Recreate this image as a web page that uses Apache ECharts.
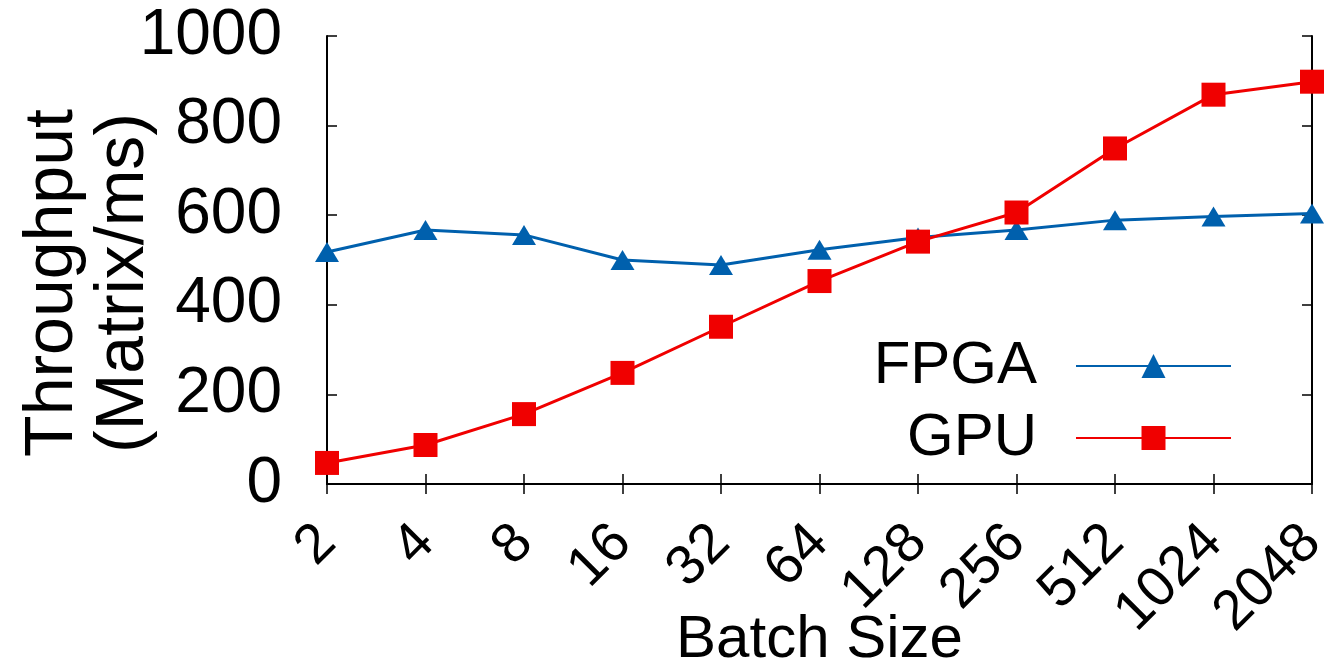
<!DOCTYPE html>
<html>
<head>
<meta charset="utf-8">
<script src="https://cdn.jsdelivr.net/npm/echarts@6/dist/echarts.min.js"></script>
<style>
html,body{margin:0;padding:0;background:#fff;}
#chart{width:1333px;height:665px;}
</style>
</head>
<body>
<div id="chart"></div>
<script>
const categories = ['2','4','8','16','32','64','128','256','512','1024','2048'];
const fpga = [518, 567, 556, 500, 489, 523, 550, 567, 589, 597, 604];
const gpu = [47, 87, 156, 248, 351, 453, 541, 606, 749, 869, 898];
const yTicks = {min: 0, max: 1000, interval: 200};

const FONT = 'Liberation Sans';
const chart = echarts.init(document.getElementById('chart'));
const frame = {show: true, lineStyle: {color: '#000', width: 2}};
chart.setOption({
  animation: false,
  backgroundColor: '#fff',
  textStyle: {fontFamily: FONT, color: '#000'},
  grid: {left: 327, right: 21, top: 36, bottom: 181, containLabel: false, outerBoundsMode: 'none'},
  legend: {
    data: ['FPGA', 'GPU'],
    orient: 'vertical',
    align: 'right',
    right: 101,
    top: 336,
    padding: 0,
    itemWidth: 155,
    itemHeight: 30,
    itemGap: 12,
    selectedMode: false,
    textStyle: {fontFamily: FONT, fontSize: 60, lineHeight: 60, color: '#000', padding: [0, 34, 0, 0]}
  },
  xAxis: [{
    type: 'category',
    data: categories,
    boundaryGap: false,
    axisLine: frame,
    axisTick: {show: true, inside: true, length: 10, lineStyle: {color: '#000', width: 1.5}},
    axisLabel: {rotate: 45, interval: 0, fontSize: 56, margin: 50, color: '#000', fontFamily: FONT},
    name: 'Batch Size',
    nameLocation: 'middle',
    nameGap: 126,
    nameMoveOverlap: false,
    nameTextStyle: {fontSize: 60, color: '#000', fontFamily: FONT},
    splitLine: {show: false}
  }, {
    type: 'category',
    data: categories,
    position: 'top',
    boundaryGap: false,
    axisLine: frame,
    axisTick: {show: true, inside: true, length: 10, lineStyle: {color: '#000', width: 1.5}},
    axisLabel: {show: false},
    splitLine: {show: false}
  }],
  yAxis: [{
    type: 'value',
    min: yTicks.min, max: yTicks.max, interval: yTicks.interval,
    axisLine: frame,
    axisTick: {show: true, inside: true, length: 10, lineStyle: {color: '#000', width: 1.5}},
    axisLabel: {fontSize: 64, margin: 45, color: '#000', fontFamily: FONT, formatter: v => String(v)},
    splitLine: {show: false},
    name: 'Throughput\n(Matrix/ms)',
    nameLocation: 'middle',
    nameRotate: 90,
    nameGap: 167,
    nameMoveOverlap: false,
    nameTextStyle: {fontSize: 68, lineHeight: 71, color: '#000', fontFamily: FONT, padding: [0, 46, 0, 0]}
  }, {
    type: 'value',
    position: 'right',
    min: yTicks.min, max: yTicks.max, interval: yTicks.interval,
    axisLine: frame,
    axisTick: {show: true, inside: true, length: 10, lineStyle: {color: '#000', width: 1.5}},
    axisLabel: {show: false},
    splitLine: {show: false}
  }],
  series: [{
    name: 'FPGA',
    type: 'line',
    data: fpga,
    symbol: 'triangle',
    symbolSize: [24, 20],
    color: '#0060ad',
    lineStyle: {color: '#0060ad', width: 3},
    itemStyle: {color: '#0060ad'}
  }, {
    name: 'GPU',
    type: 'line',
    data: gpu,
    symbol: 'rect',
    symbolSize: 24,
    color: '#f00000',
    lineStyle: {color: '#f00000', width: 3},
    itemStyle: {color: '#f00000'}
  }]
});
</script>
</body>
</html>
